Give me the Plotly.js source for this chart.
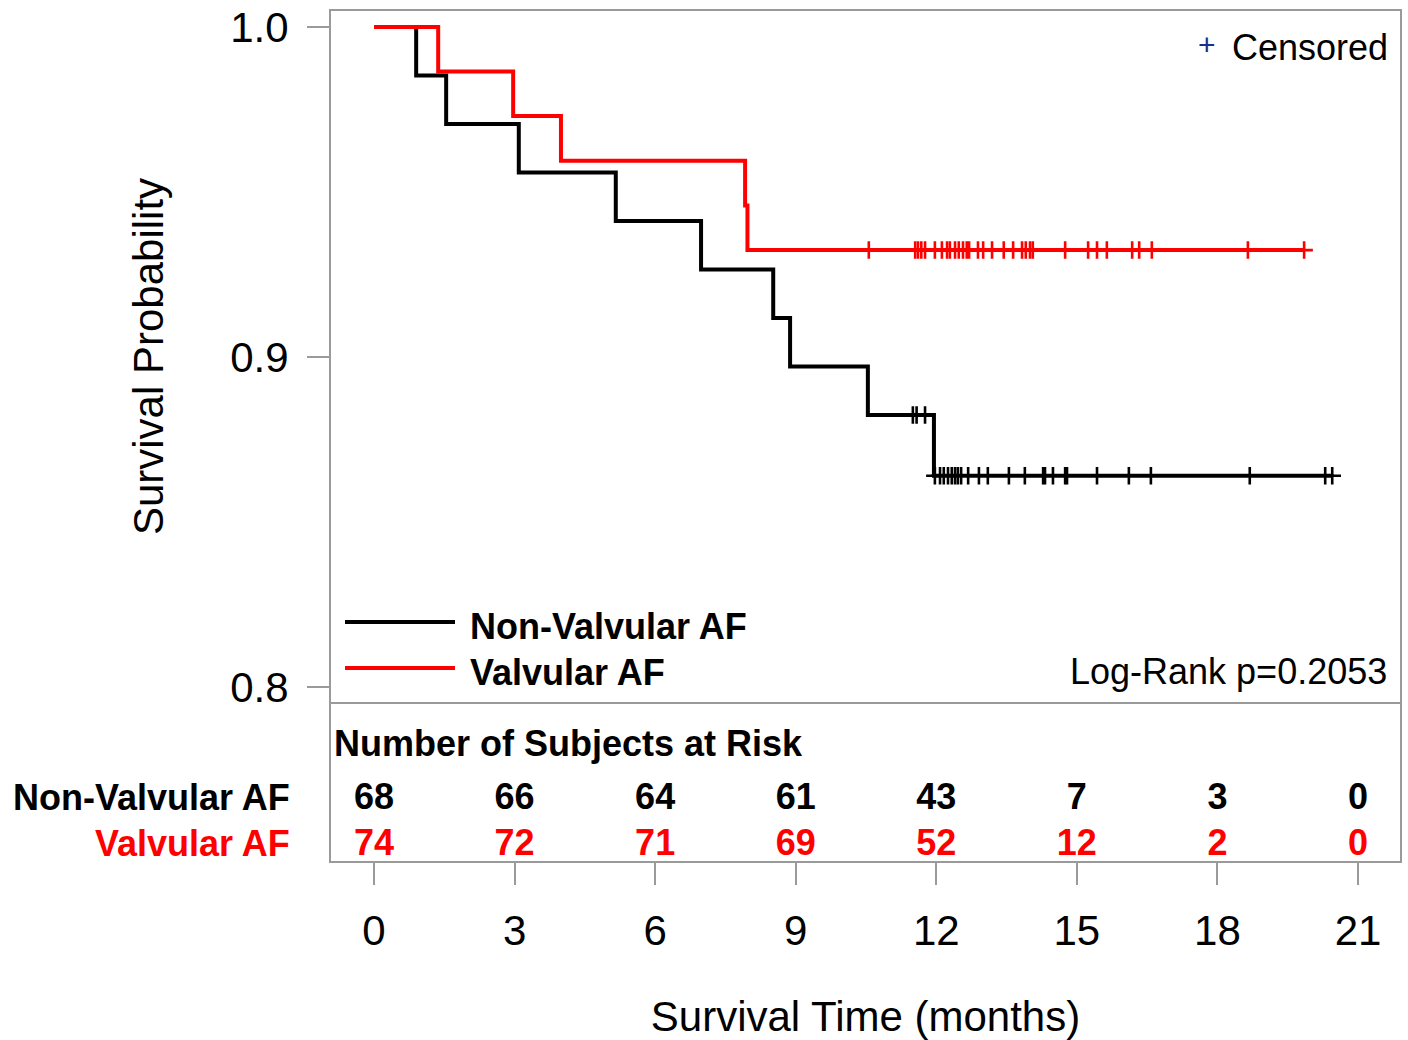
<!DOCTYPE html>
<html>
<head>
<meta charset="utf-8">
<script src="https://cdn.plot.ly/plotly-3.0.1.min.js"></script>
<style>
  html, body { margin: 0; padding: 0; background: #ffffff; }
  #chart { width: 1408px; height: 1040px; }
</style>
</head>
<body>
<div id="chart"></div>
<script>
// ---------------- DATA ----------------
const seriesNames = ["Non-Valvular AF", "Valvular AF"];

// Kaplan-Meier event (step) times and survival estimates
const nonValvularTimes = [0, 0.90, 1.54, 3.09, 5.16, 6.98, 8.52, 8.88, 10.54, 11.95];
const nonValvularSurv  = [1.0, 0.9853, 0.9706, 0.9559, 0.9412, 0.9265, 0.9118, 0.8971, 0.8824, 0.8640];
const valvularTimes = [0, 1.37, 2.97, 3.99, 7.92, 7.97];
const valvularSurv  = [1.0, 0.9865, 0.9730, 0.9595, 0.9459, 0.9324];

// Censored observation times (months)
const nonValvularCensored = [11.50, 11.58, 11.76, 11.97, 12.08, 12.16, 12.25, 12.33, 12.40, 12.46, 12.53,
  12.68, 12.91, 13.10, 13.55, 13.89, 14.28, 14.32, 14.49, 14.75, 14.79, 15.43, 16.11, 16.58, 18.69, 20.30, 20.45];
const valvularCensored = [10.56, 11.55, 11.61, 11.68, 11.76, 11.97, 12.12, 12.23, 12.29, 12.40, 12.48, 12.57,
  12.65, 12.70, 12.89, 13.00, 13.19, 13.44, 13.64, 13.83, 13.91, 14.00, 14.06, 14.75, 15.24, 15.43, 15.64,
  16.18, 16.33, 16.60, 18.65, 19.85];

// Number at risk table
const riskTimes = [0, 3, 6, 9, 12, 15, 18, 21];
const riskNonValvular = [68, 66, 64, 61, 43, 7, 3, 0];
const riskValvular = [74, 72, 71, 69, 52, 12, 2, 0];

// Axis ticks
const yTickVals = [0.8, 0.9, 1.0];
const yTickText = ["0.8", "0.9", "1.0"];
const xTickText = riskTimes.map(String);

const pValueText = "Log-Rank p=0.2053";

// ---------------- HELPERS ----------------
function survAt(times, surv, t) {
  let s = surv[0];
  for (let i = 0; i < times.length; i++) { if (times[i] <= t) s = surv[i]; }
  return s;
}
function stepLine(times, surv, censored) {
  const end = Math.max(times[times.length - 1], censored[censored.length - 1]);
  return { x: times.concat([end]), y: surv.concat([surv[surv.length - 1]]) };
}

const BLACK = "#000000", RED = "#ff0000", GRAY = "#9a9a9a", NAVY = "#1c2e8c";
const FONT = "Liberation Sans, Arial, Helvetica, sans-serif";

// Pixel -> paper helpers for layout-only placement (plot area 330..1401 x, 10..862 y)
const L = 330, R = 1401, T = 10, B = 862;
const px = v => (v - L) / (R - L);
const py = v => (B - v) / (B - T);

const nvLine = stepLine(nonValvularTimes, nonValvularSurv, nonValvularCensored);
const vLine = stepLine(valvularTimes, valvularSurv, valvularCensored);

const traces = [
  { x: nvLine.x, y: nvLine.y, xaxis: "x2", yaxis: "y", mode: "lines",
    line: { shape: "hv", color: BLACK, width: 4 }, name: seriesNames[0], showlegend: false },
  { x: vLine.x, y: vLine.y, xaxis: "x2", yaxis: "y", mode: "lines",
    line: { shape: "hv", color: RED, width: 4 }, name: seriesNames[1], showlegend: false },
  { x: nonValvularCensored, y: nonValvularCensored.map(t => survAt(nonValvularTimes, nonValvularSurv, t)),
    xaxis: "x2", yaxis: "y", mode: "markers", showlegend: false,
    marker: { symbol: "cross-thin", size: 12.5, color: BLACK, line: { color: BLACK, width: 2.6 } } },
  { x: valvularCensored, y: valvularCensored.map(t => survAt(valvularTimes, valvularSurv, t)),
    xaxis: "x2", yaxis: "y", mode: "markers", showlegend: false,
    marker: { symbol: "cross-thin", size: 12.5, color: RED, line: { color: RED, width: 2.6 } } },
  // risk table rows (y2 value = pixels above table bottom)
  { x: riskTimes, y: riskTimes.map(() => B - 800), xaxis: "x", yaxis: "y2", mode: "text",
    text: riskNonValvular.map(String), textposition: "middle center", showlegend: false,
    textfont: { family: FONT, size: 36, color: BLACK, weight: "bold" } },
  { x: riskTimes, y: riskTimes.map(() => B - 846), xaxis: "x", yaxis: "y2", mode: "text",
    text: riskValvular.map(String), textposition: "middle center", showlegend: false,
    textfont: { family: FONT, size: 36, color: RED, weight: "bold" } }
];

const xRange = [-(374 - L) / 46.86, 21 + (R - 1358) / 46.86];
const mainDomBottom = (B - 703) / (B - T);

const layout = {
  width: 1408, height: 1040,
  margin: { l: L, r: 1408 - R, t: T, b: 1040 - B, pad: 0 },
  paper_bgcolor: "#ffffff", plot_bgcolor: "#ffffff",
  font: { family: FONT, color: BLACK },
  showlegend: false,
  hovermode: false,
  xaxis: {
    anchor: "y2", domain: [0, 1], range: xRange,
    tickmode: "array", tickvals: riskTimes, ticktext: xTickText,
    ticks: "outside", ticklen: 22, tickwidth: 2, tickcolor: GRAY,
    ticklabelstandoff: 10,
    tickfont: { family: FONT, size: 42, color: BLACK },
    showgrid: false, zeroline: false, showline: false,
    title: { text: "Survival Time (months)", font: { family: FONT, size: 42, color: BLACK }, standoff: 52 }
  },
  xaxis2: {
    anchor: "y", domain: [0, 1], range: xRange, matches: "x",
    showticklabels: false, ticks: "", showgrid: false, zeroline: false, showline: false
  },
  yaxis: {
    domain: [mainDomBottom, 1], range: [0.8 - 16 / 3300, 1.0 + 17 / 3300],
    tickmode: "array", tickvals: yTickVals, ticktext: yTickText,
    ticks: "outside", ticklen: 22, tickwidth: 2, tickcolor: GRAY,
    ticklabelstandoff: 10,
    tickfont: { family: FONT, size: 42, color: BLACK },
    showgrid: false, zeroline: false, showline: false,
    title: { text: "Survival Probability", font: { family: FONT, size: 42, color: BLACK }, standoff: 53 }
  },
  yaxis2: {
    domain: [0, mainDomBottom], range: [0, B - 703],
    visible: false, showgrid: false, zeroline: false
  },
  shapes: [
    { type: "rect", xref: "paper", yref: "paper", x0: 0, x1: 1, y0: 0, y1: 1,
      line: { color: GRAY, width: 2 } },
    { type: "line", xref: "paper", yref: "paper", x0: 0, x1: 1, y0: mainDomBottom, y1: mainDomBottom,
      line: { color: GRAY, width: 2 } },
    // legend line samples
    { type: "line", xref: "paper", yref: "paper", x0: px(345), x1: px(455), y0: py(622), y1: py(622),
      line: { color: BLACK, width: 4 } },
    { type: "line", xref: "paper", yref: "paper", x0: px(345), x1: px(455), y0: py(668), y1: py(668),
      line: { color: RED, width: 4 } }
  ],
  annotations: [
    { xref: "paper", yref: "paper", x: px(468), y: py(626), xanchor: "left", yanchor: "middle",
      text: "<b>" + seriesNames[0] + "</b>", showarrow: false, font: { family: FONT, size: 36, color: BLACK } },
    { xref: "paper", yref: "paper", x: px(468), y: py(672), xanchor: "left", yanchor: "middle",
      text: "<b>" + seriesNames[1] + "</b>", showarrow: false, font: { family: FONT, size: 36, color: BLACK } },
    { xref: "paper", yref: "paper", x: px(1207), y: py(44), xanchor: "center", yanchor: "middle",
      text: "+", showarrow: false, font: { family: FONT, size: 30, color: NAVY } },
    { xref: "paper", yref: "paper", x: px(1230), y: py(47), xanchor: "left", yanchor: "middle",
      text: "Censored", showarrow: false, font: { family: FONT, size: 36, color: BLACK } },
    { xref: "paper", yref: "paper", x: px(1389), y: py(671), xanchor: "right", yanchor: "middle",
      text: pValueText, showarrow: false, font: { family: FONT, size: 36, color: BLACK } },
    { xref: "paper", yref: "paper", x: px(332), y: py(743), xanchor: "left", yanchor: "middle",
      text: "<b>Number of Subjects at Risk</b>", showarrow: false, font: { family: FONT, size: 36, color: BLACK } },
    { xref: "paper", yref: "paper", x: px(292), y: py(797), xanchor: "right", yanchor: "middle",
      text: "<b>" + seriesNames[0] + "</b>", showarrow: false, font: { family: FONT, size: 36, color: BLACK } },
    { xref: "paper", yref: "paper", x: px(292), y: py(843), xanchor: "right", yanchor: "middle",
      text: "<b>" + seriesNames[1] + "</b>", showarrow: false, font: { family: FONT, size: 36, color: RED } }
  ]
};

Plotly.newPlot("chart", traces, layout, { displayModeBar: false, staticPlot: true });
</script>
</body>
</html>
